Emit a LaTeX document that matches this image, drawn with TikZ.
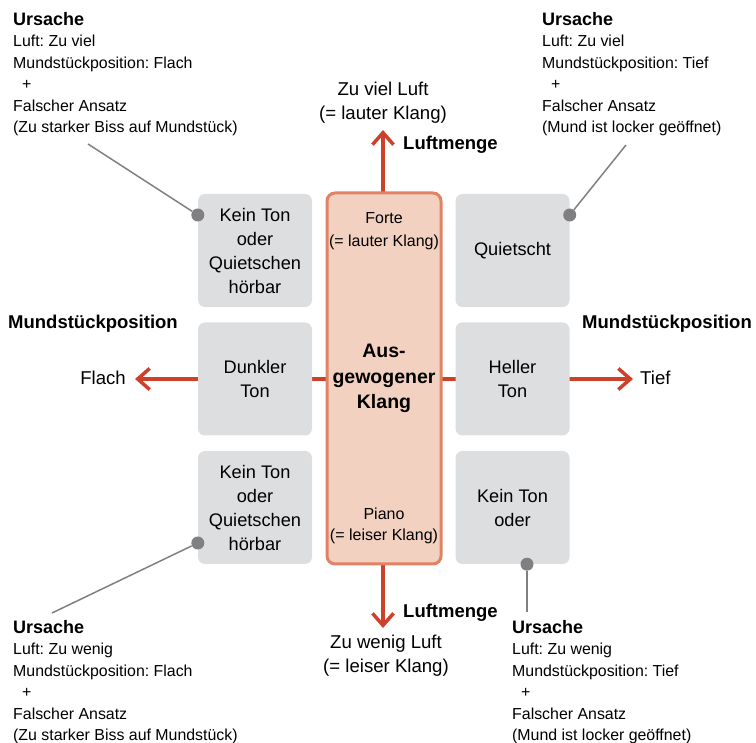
\documentclass[tikz,border=0pt]{standalone}
\usepackage{fontspec}
\setmainfont{Liberation Sans}
\frenchspacing
\definecolor{klgray}{RGB}{221,222,224}
\definecolor{klsalmon}{RGB}{243,209,192}
\definecolor{klorange}{RGB}{225,130,100}
\definecolor{klred}{RGB}{205,65,42}
\definecolor{kldot}{RGB}{128,128,130}
\usetikzlibrary{arrows.meta,positioning,calc}

\begin{document}
\begin{tikzpicture}[x=1pt,y=-1pt,
  tonebox/.style={
    rectangle, rounded corners=7pt,
    minimum width=114pt, minimum height=113pt,
    fill=klgray, inner sep=0pt,
    font=\fontsize{18.2}{24}\selectfont,
    align=center
  },
  axisarrow/.style={-{Straight Barb[length=12pt,width=21pt]}, line width=3.5pt, draw=klred},
  axislabel/.style={font=\fontsize{18.6}{23.5}\selectfont, align=center, inner sep=0pt},
  axistitle/.style={font=\fontsize{18.5}{23}\selectfont\bfseries, inner sep=0pt},
  causetext/.style={font=\fontsize{15.9}{21.5}\selectfont, align=left, anchor=north west, inner sep=0pt},
  pin/.style={draw=kldot, line width=1.5pt},
  pindot/.style={circle, fill=kldot, minimum size=13pt, inner sep=0pt}
]
\useasboundingbox (0,0) rectangle (756,743);

% axes behind the boxes
\coordinate (mid)  at (383,379);
\coordinate (tipL) at (135,379);
\coordinate (tipR) at (633,379);
\coordinate (tipT) at (383,130);
\coordinate (tipB) at (383,628);
\draw[axisarrow] (mid) -- (tipL);
\draw[axisarrow] (mid) -- (tipR);
\draw[axisarrow] (mid) -- (tipT);
\draw[axisarrow] (mid) -- (tipB);

\node[tonebox] (kein1)  at (255,250.5)   {Kein Ton\\oder\\Quietschen\\hörbar};
\node[tonebox] (dunkel) at (255,379)     {Dunkler\\Ton};
\node[tonebox] (kein2)  at (255,507.5)   {Kein Ton\\oder\\Quietschen\\hörbar};
\node[tonebox] (quiet)  at (512.5,250.5) {Quietscht};
\node[tonebox] (hell)   at (512.5,379)   {Heller\\Ton};
\node[tonebox] (kein3)  at (512.5,507.5) {Kein Ton\\oder};

\node[rectangle, rounded corners=8pt, draw=klorange, line width=3pt, fill=klsalmon,
  minimum width=114pt, minimum height=371pt, inner sep=0pt,
  font=\fontsize{19.5}{25.5}\selectfont\bfseries, align=center] (klang) at (384,378.5)
  {Aus-\\gewogener\\Klang};
\node[font=\fontsize{16}{23}\selectfont, align=center, inner sep=0pt] (forte) at (384,231)
  {Forte\\(= lauter Klang)};
\node[font=\fontsize{16}{21}\selectfont, align=center, inner sep=0pt] (piano) at (384,525.5)
  {Piano\\(= leiser Klang)};

\node[axislabel] (viel)  at (383,102.5) {Zu viel Luft\\(= lauter Klang)};
\node[axislabel] (wenig) at (386,655.5) {Zu wenig Luft\\(= leiser Klang)};
\node[axistitle, anchor=west] (lmtop)   at (403,145) {Luftmenge};
\node[axistitle, anchor=west] (lmbot)   at (403,613) {Luftmenge};
\node[axistitle, anchor=west] (mpleft)  at (8,324)   {Mundstückposition};
\node[axistitle, anchor=east] (mpright) at (752,324) {Mundstückposition};
\node[axislabel, anchor=east] (flach) at (126,378) {Flach};
\node[axislabel, anchor=west] (tief)  at (640,378) {Tief};

% causes
\node[causetext] (causeTL) at (13,12)
  {\textbf{\fontsize{18}{21.5}\selectfont Ursache}\\Luft: Zu viel\\Mundstückposition: Flach\\\hspace*{9pt}+\\Falscher Ansatz\\(Zu starker Biss auf Mundstück)};
\node[causetext] (causeTR) at (542,12)
  {\textbf{\fontsize{18}{21.5}\selectfont Ursache}\\Luft: Zu viel\\Mundstückposition: Tief\\\hspace*{9pt}+\\Falscher Ansatz\\(Mund ist locker geöffnet)};
\node[causetext] (causeBL) at (13,620)
  {\textbf{\fontsize{18}{21.5}\selectfont Ursache}\\Luft: Zu wenig\\Mundstückposition: Flach\\\hspace*{9pt}+\\Falscher Ansatz\\(Zu starker Biss auf Mundstück)};
\node[causetext] (causeBR) at (512,620)
  {\textbf{\fontsize{18}{21.5}\selectfont Ursache}\\Luft: Zu wenig\\Mundstückposition: Tief\\\hspace*{9pt}+\\Falscher Ansatz\\(Mund ist locker geöffnet)};

\coordinate (endTL) at (88,144);
\coordinate (endTR) at (626,145);
\coordinate (endBL) at (52,613);
\coordinate (endBR) at (527,612);
\node[pindot] (dotTL) at ([yshift=35.5pt]kein1.west)  {};
\node[pindot] (dotTR) at ([yshift=35.5pt]quiet.east)  {};
\node[pindot] (dotBL) at ([yshift=-35.5pt]kein2.west) {};
\node[pindot] (dotBR) at ([xshift=14.5pt]kein3.south) {};
\draw[pin] (endTL) -- (dotTL);
\draw[pin] (endTR) -- (dotTR);
\draw[pin] (endBL) -- (dotBL);
\draw[pin] (endBR) -- (dotBR);
\end{tikzpicture}
\end{document}
